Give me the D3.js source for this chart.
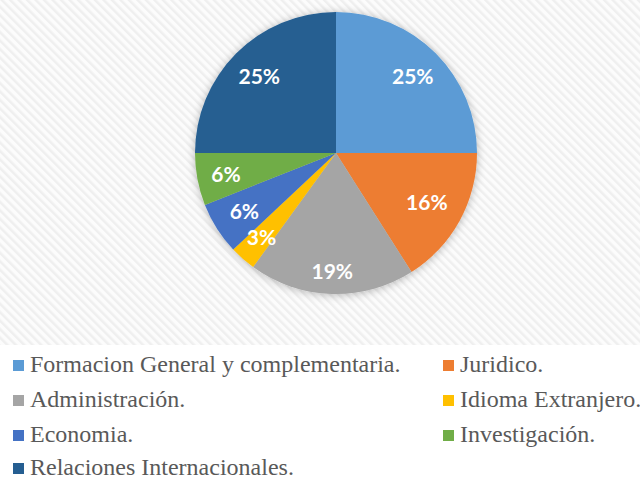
<!DOCTYPE html>
<html>
<head>
<meta charset="utf-8">
<script src="https://cdn.jsdelivr.net/npm/d3@7"></script>
<style>
  html, body { margin: 0; padding: 0; background: #ffffff; }
  svg { display: block; }
</style>
</head>
<body>
<script>
// Course areas and their share of the programme (percent)
const categories = [
  "Formacion General y complementaria.",
  "Juridico.",
  "Administración.",
  "Idioma Extranjero.",
  "Economia.",
  "Investigación.",
  "Relaciones Internacionales."
];
const shares = [25, 16, 19, 3, 6, 6, 25];
const sliceColors = ["#5B9BD5", "#ED7D31", "#A5A5A5", "#FFC000", "#4472C4", "#70AD47", "#255E91"];

// How far out each percentage label sits, as a fraction of the radius
const labelRadiusFactor = [0.77, 0.735, 0.84, 0.80, 0.77, 0.795, 0.77];

const W = 640, H = 480;
const cx = 336, cy = 153, R = 141;

const svg = d3.select("body").append("svg")
  .attr("width", W).attr("height", H);

const defs = svg.append("defs");

// Fine diagonal stripe texture behind the plot area
const pat = defs.append("pattern")
  .attr("id", "stripes")
  .attr("patternUnits", "userSpaceOnUse")
  .attr("width", 6).attr("height", 6)
  .attr("patternTransform", "rotate(-45)");
pat.append("rect").attr("width", 6).attr("height", 6).attr("fill", "#fcfcfc");
pat.append("rect").attr("width", 2.5).attr("height", 6).attr("fill", "#efefef");

const shadow = defs.append("filter")
  .attr("id", "pieShadow")
  .attr("x", "-20%").attr("y", "-20%").attr("width", "140%").attr("height", "140%");
shadow.append("feDropShadow")
  .attr("dx", 0).attr("dy", 1)
  .attr("stdDeviation", 4)
  .attr("flood-color", "#000").attr("flood-opacity", 0.28);

svg.append("rect").attr("width", W).attr("height", H).attr("fill", "#ffffff");
svg.append("rect").attr("width", W).attr("height", 345).attr("fill", "url(#stripes)");

const pie = d3.pie().sort(null).value(d => d)(shares);
const arc = d3.arc().innerRadius(0).outerRadius(R);

const g = svg.append("g").attr("transform", `translate(${cx},${cy})`);

g.append("g").attr("filter", "url(#pieShadow)")
  .selectAll("path").data(pie).join("path")
  .attr("d", arc)
  .attr("fill", (d, i) => sliceColors[i]);

g.selectAll("text.pct").data(pie).join("text")
  .attr("class", "pct")
  .attr("transform", (d, i) => {
    const a = (d.startAngle + d.endAngle) / 2;
    const r = R * labelRadiusFactor[i];
    return `translate(${r * Math.sin(a)},${-r * Math.cos(a)})`;
  })
  .attr("text-anchor", "middle")
  .attr("dy", "0.36em")
  .attr("fill", "#ffffff")
  .attr("font-family", "Lato, 'Open Sans', sans-serif")
  .attr("font-weight", "bold")
  .attr("font-size", 21)
  .text(d => d.value + "%");

// Legend: two columns, four rows
const colX = [13, 443];
const rowY = [372, 407, 442, 475];
const legend = svg.append("g");
categories.forEach((name, i) => {
  const x = colX[i % 2], y = rowY[Math.floor(i / 2)];
  legend.append("rect")
    .attr("x", x).attr("y", y - 12)
    .attr("width", 11).attr("height", 11)
    .attr("fill", sliceColors[i]);
  legend.append("text")
    .attr("x", x + 17).attr("y", y)
    .attr("font-family", "'Liberation Serif', 'Times New Roman', serif")
    .attr("font-size", 24)
    .attr("fill", "#595959")
    .text(name);
});
</script>
</body>
</html>
